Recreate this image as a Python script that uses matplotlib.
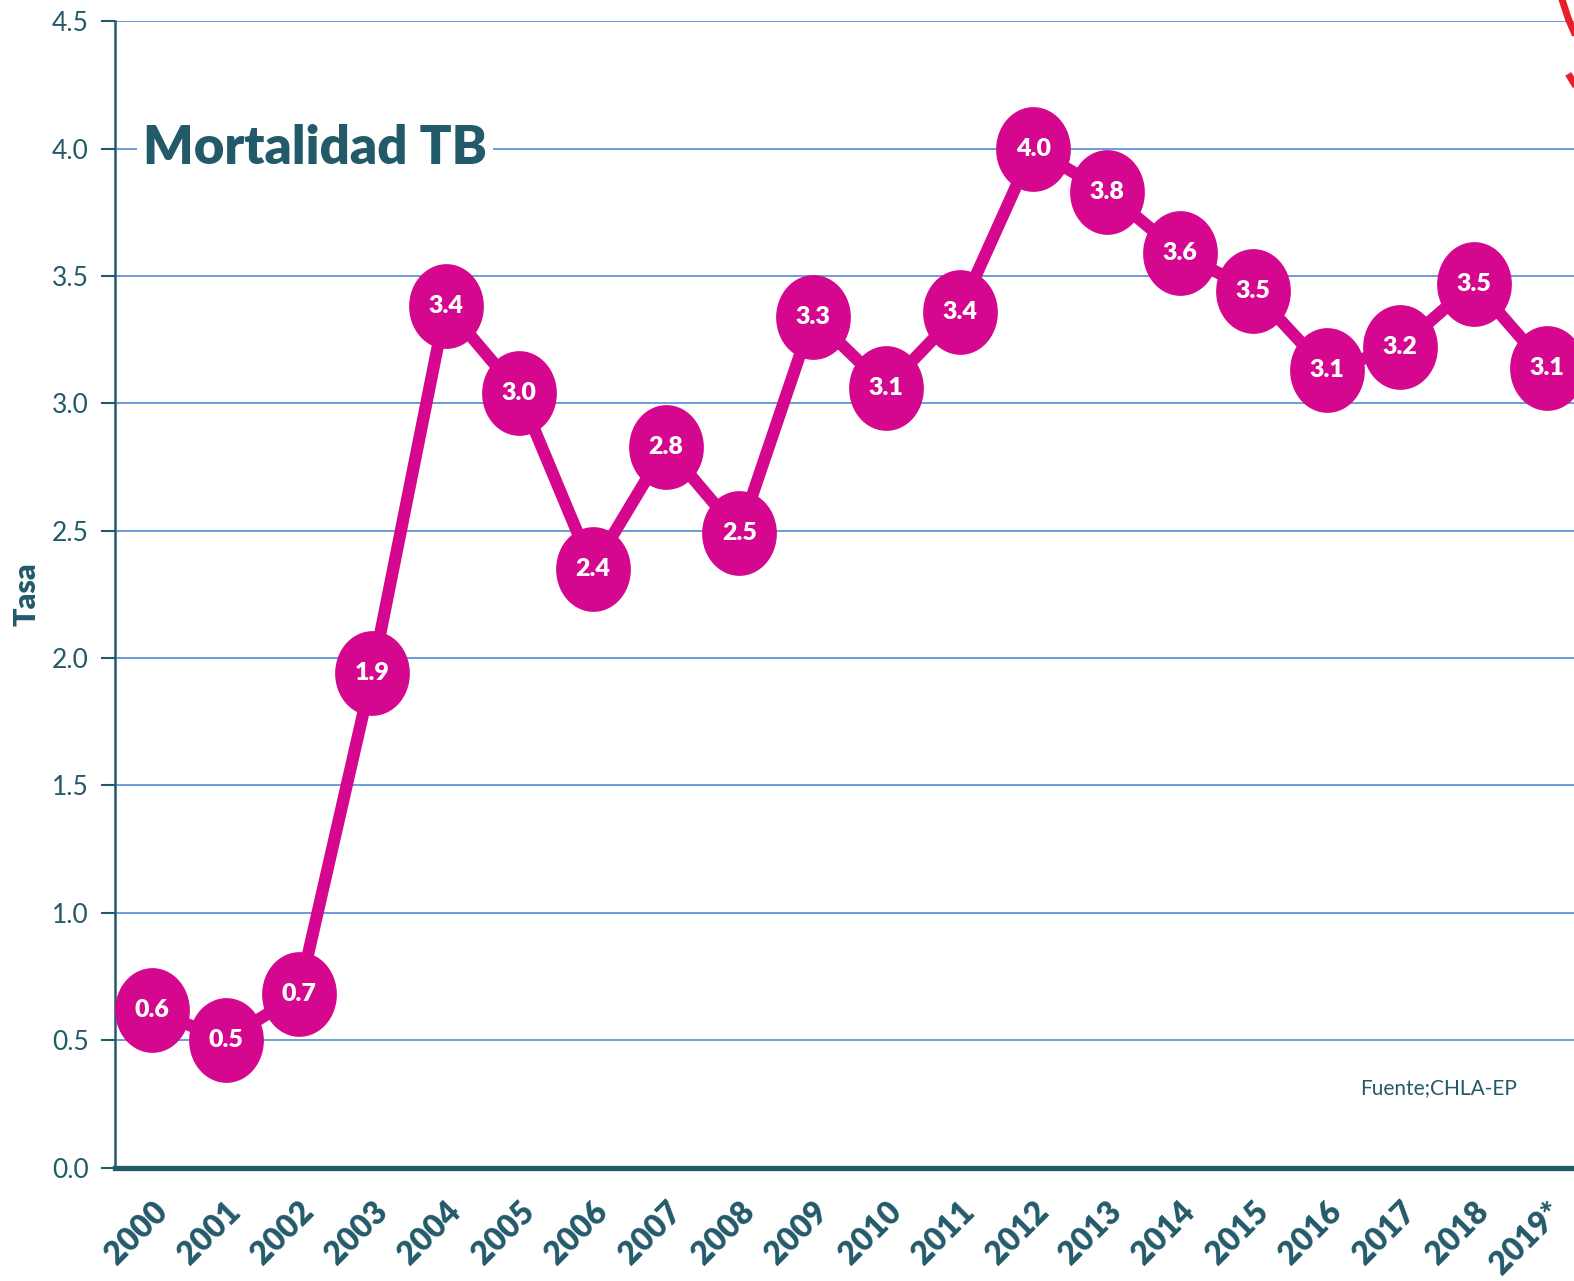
import matplotlib.pyplot as plt
from matplotlib.path import Path
from matplotlib.markers import MarkerStyle
import numpy as np

years = ['2000', '2001', '2002', '2003', '2004', '2005', '2006', '2007', '2008', '2009',
         '2010', '2011', '2012', '2013', '2014', '2015', '2016', '2017', '2018', '2019*']
tasa = [0.62, 0.50, 0.68, 1.94, 3.38, 3.04, 2.35, 2.83, 2.49, 3.34,
        3.06, 3.36, 4.00, 3.83, 3.59, 3.44, 3.13, 3.22, 3.47, 3.14]
etiquetas = ['0.6', '0.5', '0.7', '1.9', '3.4', '3.0', '2.4', '2.8', '2.5', '3.3',
             '3.1', '3.4', '4.0', '3.8', '3.6', '3.5', '3.1', '3.2', '3.5', '3.1']
yticks = [0.0, 0.5, 1.0, 1.5, 2.0, 2.5, 3.0, 3.5, 4.0, 4.5]

TEAL = '#235A6A'
MAGENTA = '#D4078E'
GRID = '#6C9BDA'

plt.rcParams['font.family'] = ['Lato', 'DejaVu Sans']

fig = plt.figure(figsize=(15.74, 12.81), dpi=100)
ax = fig.add_axes([0.0733, 0.0886, 0.9329, 0.8949])

# marcador eliptico (un poco mas alto que ancho)
t = np.linspace(0, 2 * np.pi, 80)
elipse = Path(np.column_stack([0.88 * np.cos(t), np.sin(t)]), closed=True)
marker = MarkerStyle(elipse)

x = np.arange(len(years))
ax.plot(x, tasa, color=MAGENTA, lw=8.8, zorder=3, solid_joinstyle='round')
ax.plot(x, tasa, ls='none', marker=marker, ms=60, color=MAGENTA, mec=MAGENTA, zorder=4)
for xi, yi, lab in zip(x, tasa, etiquetas):
    ax.text(xi, yi, lab, color='white', fontsize=18, fontweight='heavy',
            ha='center', va='center', zorder=5)

ax.set_xlim(-0.5, len(years) - 0.5)
ax.set_ylim(0, 4.5)
ax.set_yticks(yticks)
ax.set_yticklabels([f'{v:.1f}' for v in yticks], fontsize=19, color=TEAL)
ax.set_xticks(x)
ax.set_xticklabels(years, rotation=45, ha='right', rotation_mode='anchor',
                   fontsize=23, fontweight='heavy', color=TEAL)
ax.tick_params(axis='x', length=0, pad=21)
ax.tick_params(axis='y', length=10, width=1.5, color=TEAL, pad=9)
ax.grid(axis='y', color=GRID, lw=1.4)
ax.set_axisbelow(True)

for s in ['top', 'right']:
    ax.spines[s].set_visible(False)
ax.spines['left'].set_color(TEAL)
ax.spines['left'].set_linewidth(1.8)
ax.spines['bottom'].set_color(TEAL)
ax.spines['bottom'].set_linewidth(3.8)

ax.set_ylabel('Tasa', fontsize=22, fontweight='heavy', color=TEAL, labelpad=8)

ax.text(-0.12, 4.0, 'Mortalidad TB', fontsize=38, fontweight='heavy', color=TEAL,
        ha='left', va='center', zorder=6,
        bbox=dict(facecolor='white', edgecolor='none', pad=4))
ax.text(16.45, 0.31, 'Fuente;CHLA-EP', fontsize=15, color=TEAL, ha='left', va='center')

# fragmento de logo cortado en la esquina superior derecha
fig.add_artist(plt.Line2D([0.9925, 0.9965, 1.0], [1.0, 0.985, 0.975],
                          transform=fig.transFigure, color='#E8202A', lw=5))
fig.add_artist(plt.Line2D([0.9975, 1.0], [0.94, 0.935],
                          transform=fig.transFigure, color='#E8202A', lw=5))

fig.savefig('out.png', dpi=100)
